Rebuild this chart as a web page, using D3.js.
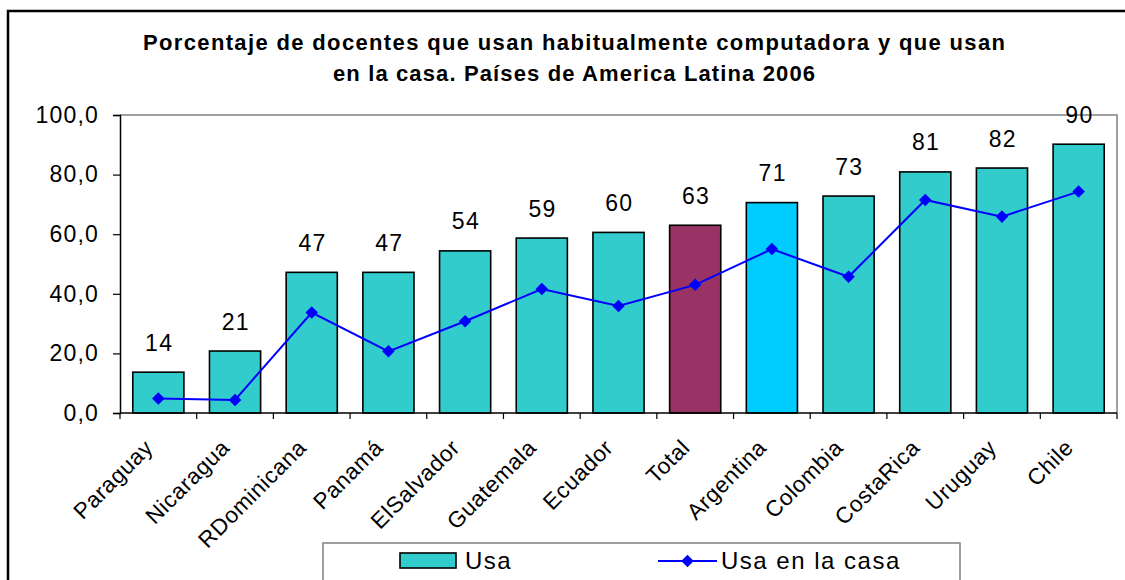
<!DOCTYPE html>
<html>
<head>
<meta charset="utf-8">
<script src="https://cdn.jsdelivr.net/npm/d3@7"></script>
<style>
  body { margin: 0; background: #fff; }
  svg { display: block; font-family: "Liberation Sans", Arial, sans-serif; }
</style>
</head>
<body>
<svg id="mainSvg"></svg>
<script>
var WIDTH = 1125;
var HEIGHT = 580;

// chart data
var COUNTRIES = ["Paraguay", "Nicaragua", "RDominicana", "Panamá", "ElSalvador", "Guatemala",
  "Ecuador", "Total", "Argentina", "Colombia", "CostaRica", "Uruguay", "Chile"];
var USA = [13.7, 20.8, 47.2, 47.2, 54.4, 58.7, 60.6, 63.0, 70.6, 72.8, 80.9, 82.2, 90.2];
var USA_LABELS = ["14", "21", "47", "47", "54", "59", "60", "63", "71", "73", "81", "82", "90"];
var USA_CASA = [4.9, 4.4, 33.7, 20.7, 30.8, 41.6, 35.9, 43.0, 55.0, 45.7, 71.5, 65.9, 74.3];
var Y_TICKS = [0, 20, 40, 60, 80, 100];
var TITLE_LINES = ["Porcentaje de docentes que usan habitualmente computadora y que usan",
  "en la casa. Países de America Latina 2006"];
var LEGEND_LABELS = ["Usa", "Usa en la casa"];

var PLOT = { left: 120, right: 1117, top: 115, bottom: 413 };

function barColor(name) {
  if (name === "Total") return "#993366";
  if (name === "Argentina") return "#00CCFF";
  return "#33CCCC";
}

var svg = d3.select("#mainSvg")
  .attr("width", WIDTH)
  .attr("height", HEIGHT);

// outer frame, runs off the bottom/right like the original
svg.append("rect")
  .attr("x", 8).attr("y", 11)
  .attr("width", 1140).attr("height", 620)
  .attr("fill", "none").attr("stroke", "#000").attr("stroke-width", 2.5);

// title
var titleCfg = [{ y: 50, len: 862 }, { y: 81, len: 482 }];
svg.selectAll(".title")
  .data(TITLE_LINES)
  .enter().append("text")
  .attr("class", "title")
  .attr("x", 574)
  .attr("y", function (d, i) { return titleCfg[i].y; })
  .attr("text-anchor", "middle")
  .attr("font-weight", "bold")
  .attr("font-size", 22)
  .attr("textLength", function (d, i) { return titleCfg[i].len; })
  .attr("lengthAdjust", "spacing")
  .text(function (d) { return d; });

var x = d3.scaleBand()
  .domain(COUNTRIES)
  .range([PLOT.left, PLOT.right])
  .paddingInner(1 / 3)
  .paddingOuter(1 / 6);

var band = (PLOT.right - PLOT.left) / COUNTRIES.length;

var y = d3.scaleLinear()
  .domain([0, 100])
  .range([PLOT.bottom, PLOT.top]);

// plot area border (grey top & right)
svg.append("path")
  .attr("d", "M" + PLOT.left + "," + PLOT.top + "H" + PLOT.right + "V" + PLOT.bottom)
  .attr("fill", "none").attr("stroke", "#808080").attr("stroke-width", 1.5);

// bars
svg.selectAll(".bar")
  .data(USA)
  .enter().append("rect")
  .attr("class", "bar")
  .attr("x", function (d, i) { return x(COUNTRIES[i]); })
  .attr("y", function (d) { return y(d); })
  .attr("width", x.bandwidth())
  .attr("height", function (d) { return y(0) - y(d); })
  .attr("fill", function (d, i) { return barColor(COUNTRIES[i]); })
  .attr("stroke", "#000")
  .attr("stroke-width", 1.6);

// value labels
svg.selectAll(".vlabel")
  .data(USA)
  .enter().append("text")
  .attr("class", "vlabel")
  .attr("x", function (d, i) { return x(COUNTRIES[i]) + x.bandwidth() / 2 + 0.8; })
  .attr("y", function (d) { return y(d) - 21.5; })
  .attr("text-anchor", "middle")
  .attr("font-size", 23)
  .attr("letter-spacing", 1.3)
  .text(function (d, i) { return USA_LABELS[i]; });

// y axis
var yAxis = d3.axisLeft(y)
  .tickValues(Y_TICKS)
  .tickSize(7)
  .tickPadding(14)
  .tickFormat(function (d) { return d3.format(".1f")(d).replace(".", ","); });

var yG = svg.append("g")
  .attr("transform", "translate(" + PLOT.left + ",0)")
  .call(yAxis);
yG.select(".domain").attr("stroke", "#000").attr("stroke-width", 1.5);
yG.selectAll(".tick line").attr("stroke", "#000").attr("stroke-width", 1.2);
yG.selectAll(".tick text")
  .attr("font-size", 23)
  .attr("letter-spacing", 1.2)
  .attr("fill", "#000")
  .attr("font-family", "Liberation Sans, Arial, sans-serif");

// x axis: ticks between categories
var xAxisLine = svg.append("g");
xAxisLine.append("line")
  .attr("x1", PLOT.left).attr("x2", PLOT.right)
  .attr("y1", PLOT.bottom).attr("y2", PLOT.bottom)
  .attr("stroke", "#000").attr("stroke-width", 1.5);
xAxisLine.selectAll(".xtick")
  .data(d3.range(COUNTRIES.length + 1))
  .enter().append("line")
  .attr("class", "xtick")
  .attr("x1", function (d) { return PLOT.left + d * band; })
  .attr("x2", function (d) { return PLOT.left + d * band; })
  .attr("y1", PLOT.bottom).attr("y2", PLOT.bottom + 6)
  .attr("stroke", "#000").attr("stroke-width", 1.2);

svg.selectAll(".xlabel")
  .data(COUNTRIES)
  .enter().append("text")
  .attr("class", "xlabel")
  .attr("text-anchor", "end")
  .attr("font-size", 22.5)
  .attr("letter-spacing", 0.6)
  .attr("transform", function (d) {
    var cx = x(d) + x.bandwidth() / 2;
    return "translate(" + (cx - 4) + "," + (PLOT.bottom + 36) + ") rotate(-45)";
  })
  .text(function (d) { return d; });

// line series
var line = d3.line()
  .x(function (d, i) { return x(COUNTRIES[i]) + x.bandwidth() / 2; })
  .y(function (d) { return y(d); });

svg.append("path")
  .datum(USA_CASA)
  .attr("d", line)
  .attr("fill", "none")
  .attr("stroke", "#0000FF")
  .attr("stroke-width", 2);

var diamond = d3.symbol().type(d3.symbolDiamond2).size(100);
svg.selectAll(".marker")
  .data(USA_CASA)
  .enter().append("path")
  .attr("class", "marker")
  .attr("d", diamond)
  .attr("transform", function (d, i) {
    return "translate(" + (x(COUNTRIES[i]) + x.bandwidth() / 2) + "," + y(d) + ")";
  })
  .attr("fill", "#0000FF");

// legend
var legend = svg.append("g");
legend.append("rect")
  .attr("x", 323).attr("y", 543)
  .attr("width", 637).attr("height", 60)
  .attr("fill", "#fff").attr("stroke", "#808080").attr("stroke-width", 1.5);
legend.append("rect")
  .attr("x", 400).attr("y", 553)
  .attr("width", 56).attr("height", 15)
  .attr("fill", "#33CCCC").attr("stroke", "#000").attr("stroke-width", 1.6);
legend.append("line")
  .attr("x1", 658).attr("x2", 717)
  .attr("y1", 561).attr("y2", 561)
  .attr("stroke", "#0000FF").attr("stroke-width", 2);
legend.append("path")
  .attr("d", diamond)
  .attr("transform", "translate(687.5,561)")
  .attr("fill", "#0000FF");
legend.selectAll(".ltext")
  .data(LEGEND_LABELS)
  .enter().append("text")
  .attr("class", "ltext")
  .attr("x", function (d, i) { return i === 0 ? 465 : 721; })
  .attr("y", 569)
  .attr("font-size", 24)
  .attr("letter-spacing", 1.5)
  .text(function (d) { return d; });
</script>
</body>
</html>
